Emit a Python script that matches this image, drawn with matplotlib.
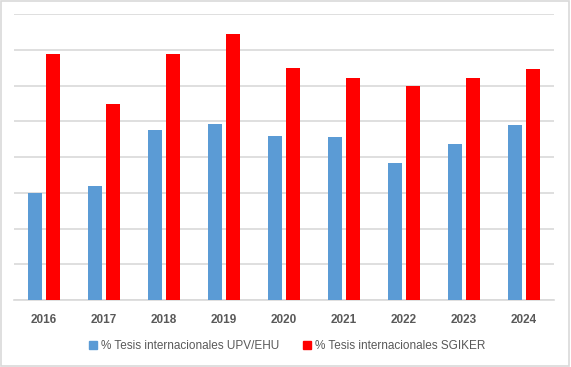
import numpy as np
import matplotlib
matplotlib.use("Agg")
import matplotlib.pyplot as plt
from matplotlib.patches import Patch, Rectangle

years = ["2016", "2017", "2018", "2019", "2020", "2021", "2022", "2023", "2024"]
upv_ehu = [30.0, 31.9, 47.6, 49.3, 45.9, 45.7, 38.4, 43.7, 49.0]
sgiker = [68.9, 54.9, 68.9, 74.5, 65.0, 62.2, 59.9, 62.2, 64.7]

label_upv = "% Tesis internacionales UPV/EHU"
label_sgiker = "% Tesis internacionales SGIKER"

blue = "#5B9BD5"
red = "#FF0000"
grid_col = "#D9D9D9"
text_col = "#595959"

plt.rcParams["font.family"] = ["Liberation Sans", "DejaVu Sans"]

fig = plt.figure(figsize=(5.71, 3.67), dpi=100)
ax = fig.add_axes([14 / 571, 67 / 367, 540 / 571, 285.7 / 367])

x = np.arange(len(years))
w = 0.233
ax.bar(x - 0.142, upv_ehu, width=w, color=blue, zorder=3)
ax.bar(x + 0.142, sgiker, width=w, color=red, zorder=3)

ax.set_xlim(-0.5, len(years) - 0.5)
ax.set_ylim(0, 80)
ax.set_yticks(np.arange(0, 81, 10))
ax.yaxis.grid(True, color=grid_col, linewidth=1.2, zorder=0)
ax.tick_params(axis="y", left=False, labelleft=False)
ax.set_xticks(x)
ax.set_xticklabels(years, fontsize=8.5, fontweight="bold", color=text_col)
ax.tick_params(axis="x", length=0, pad=10)
for s in ["top", "right", "left"]:
    ax.spines[s].set_visible(False)
ax.spines["bottom"].set_color(grid_col)
ax.spines["bottom"].set_linewidth(1.2)

handles = [Patch(color=blue, label=label_upv), Patch(color=red, label=label_sgiker)]
fig.legend(handles=handles, loc="center", bbox_to_anchor=(287 / 571, 1 - 346 / 367),
           ncol=2, frameon=False, fontsize=8.5, labelcolor=text_col,
           handlelength=0.7, handleheight=0.7, handletextpad=0.3, columnspacing=2.0)

fig.patches.append(Rectangle((0.002, 0.003), 0.995, 0.994, transform=fig.transFigure,
                             fill=False, edgecolor=grid_col, linewidth=1.2))

fig.savefig("out.png", dpi=100)
